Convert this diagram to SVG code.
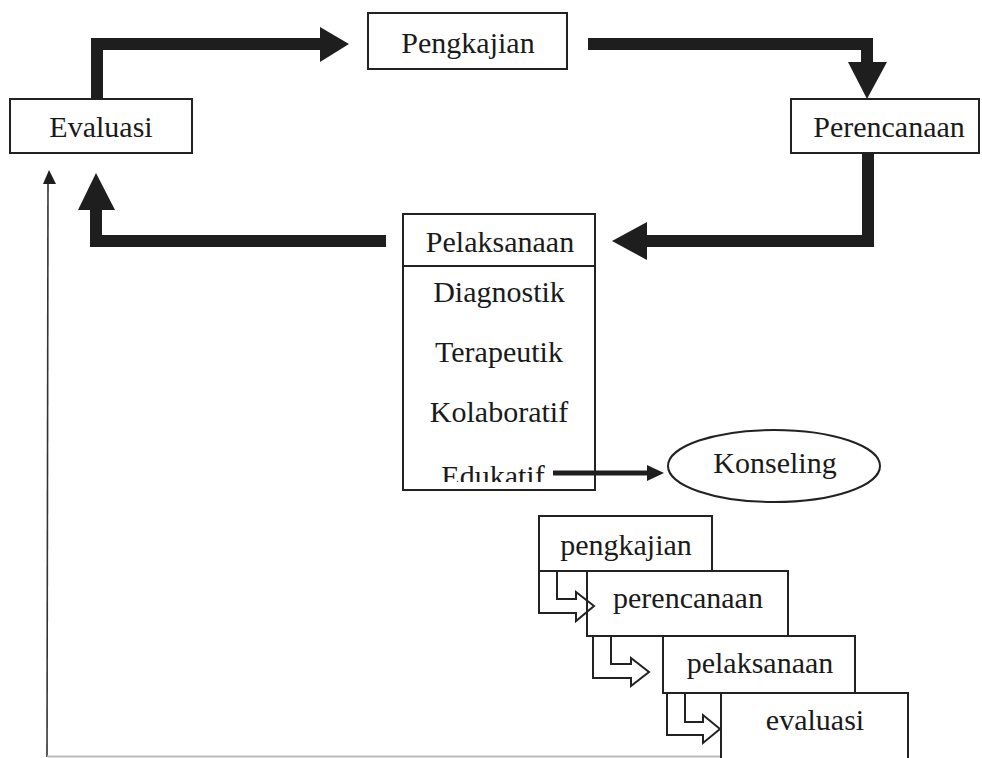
<svg xmlns="http://www.w3.org/2000/svg" width="982" height="758" viewBox="0 0 982 758">
<style>
.box{fill:#fff;stroke:#222;stroke-width:2}
.t{font-family:"Liberation Serif","Times New Roman",serif;font-size:30px;fill:#1a1a1a;text-anchor:middle}
.thick{fill:none;stroke:#1e1e1e;stroke-width:12;stroke-linejoin:miter}
.head{fill:#1e1e1e}
.hollow{fill:none;stroke:#222;stroke-width:2;stroke-linejoin:miter}
</style>
<defs>
<clipPath id="clipEdu"><rect x="400" y="440" width="200" height="42"/></clipPath>
</defs>
<rect width="982" height="758" fill="#fff"/>

<g id="node-evaluasi">
<rect class="box" x="10" y="99" width="182" height="54"/>
<text class="t" x="101" y="137">Evaluasi</text>
</g>
<g id="node-pengkajian">
<rect class="box" x="368" y="13" width="199" height="56"/>
<text class="t" x="468" y="53">Pengkajian</text>
</g>
<g id="node-perencanaan">
<rect class="box" x="791" y="99" width="188" height="54"/>
<text class="t" x="889" y="137">Perencanaan</text>
</g>
<g id="node-pelaksanaan">
<rect class="box" x="403" y="214" width="192" height="276"/>
<line x1="403" y1="266" x2="595" y2="266" stroke="#222" stroke-width="2"/>
<text class="t" x="500" y="252">Pelaksanaan</text>
<text class="t" x="499" y="302">Diagnostik</text>
<text class="t" x="499" y="362">Terapeutik</text>
<text class="t" x="499" y="422">Kolaboratif</text>
<text class="t" x="493" y="486" clip-path="url(#clipEdu)">Edukatif</text>
</g>
<g id="node-konseling">
<ellipse class="box" cx="774" cy="466" rx="106" ry="36"/>
<text class="t" x="775" y="473">Konseling</text>
</g>

<g id="node-sub-pengkajian">
<rect class="box" x="539" y="516" width="173" height="55"/>
<text class="t" x="626" y="555">pengkajian</text>
</g>
<g id="node-sub-perencanaan">
<rect class="box" x="587" y="571" width="201" height="65"/>
<text class="t" x="688" y="608">perencanaan</text>
</g>
<g id="node-sub-pelaksanaan">
<rect class="box" x="663" y="636" width="192" height="57"/>
<text class="t" x="760" y="673">pelaksanaan</text>
</g>
<g id="node-sub-evaluasi">
<rect class="box" x="721" y="693" width="187" height="80"/>
<text class="t" x="815" y="730">evaluasi</text>
</g>

<g id="connectors">
<path class="thick" d="M97,99 V44 H322"/>
<polygon class="head" points="320,27 349,44 320,62"/>
<path class="thick" d="M588,44 H867 V64"/>
<polygon class="head" points="848,62 887,62 867,99"/>
<path class="thick" d="M868,153 V241 H645"/>
<polygon class="head" points="647,222 612,241 647,260"/>
<path class="thick" d="M386,241 H96 V208"/>
<polygon class="head" points="78,210 96,173 115,210"/>
<line x1="553" y1="473" x2="650" y2="473" stroke="#1e1e1e" stroke-width="5"/>
<polygon class="head" points="647,465 664,473 647,481"/>
<path d="M48,183 L47,757" fill="none" stroke="#333" stroke-width="1.6"/>
<polygon class="head" points="43,184 49,170 56,184"/>
<line x1="47" y1="756.5" x2="720" y2="756.5" stroke="#bbb" stroke-width="2"/>
<path class="hollow" d="M539,571 V613 H576 V621 L594,606 L576,592 V599 H557 V571"/>
<path class="hollow" d="M593,636 V678 H631 V686 L649,672 L631,658 V664 H611 V636"/>
<path class="hollow" d="M667,693 V735 H703 V743 L720,729 L703,715 V722 H685 V693"/>
</g>
</svg>
